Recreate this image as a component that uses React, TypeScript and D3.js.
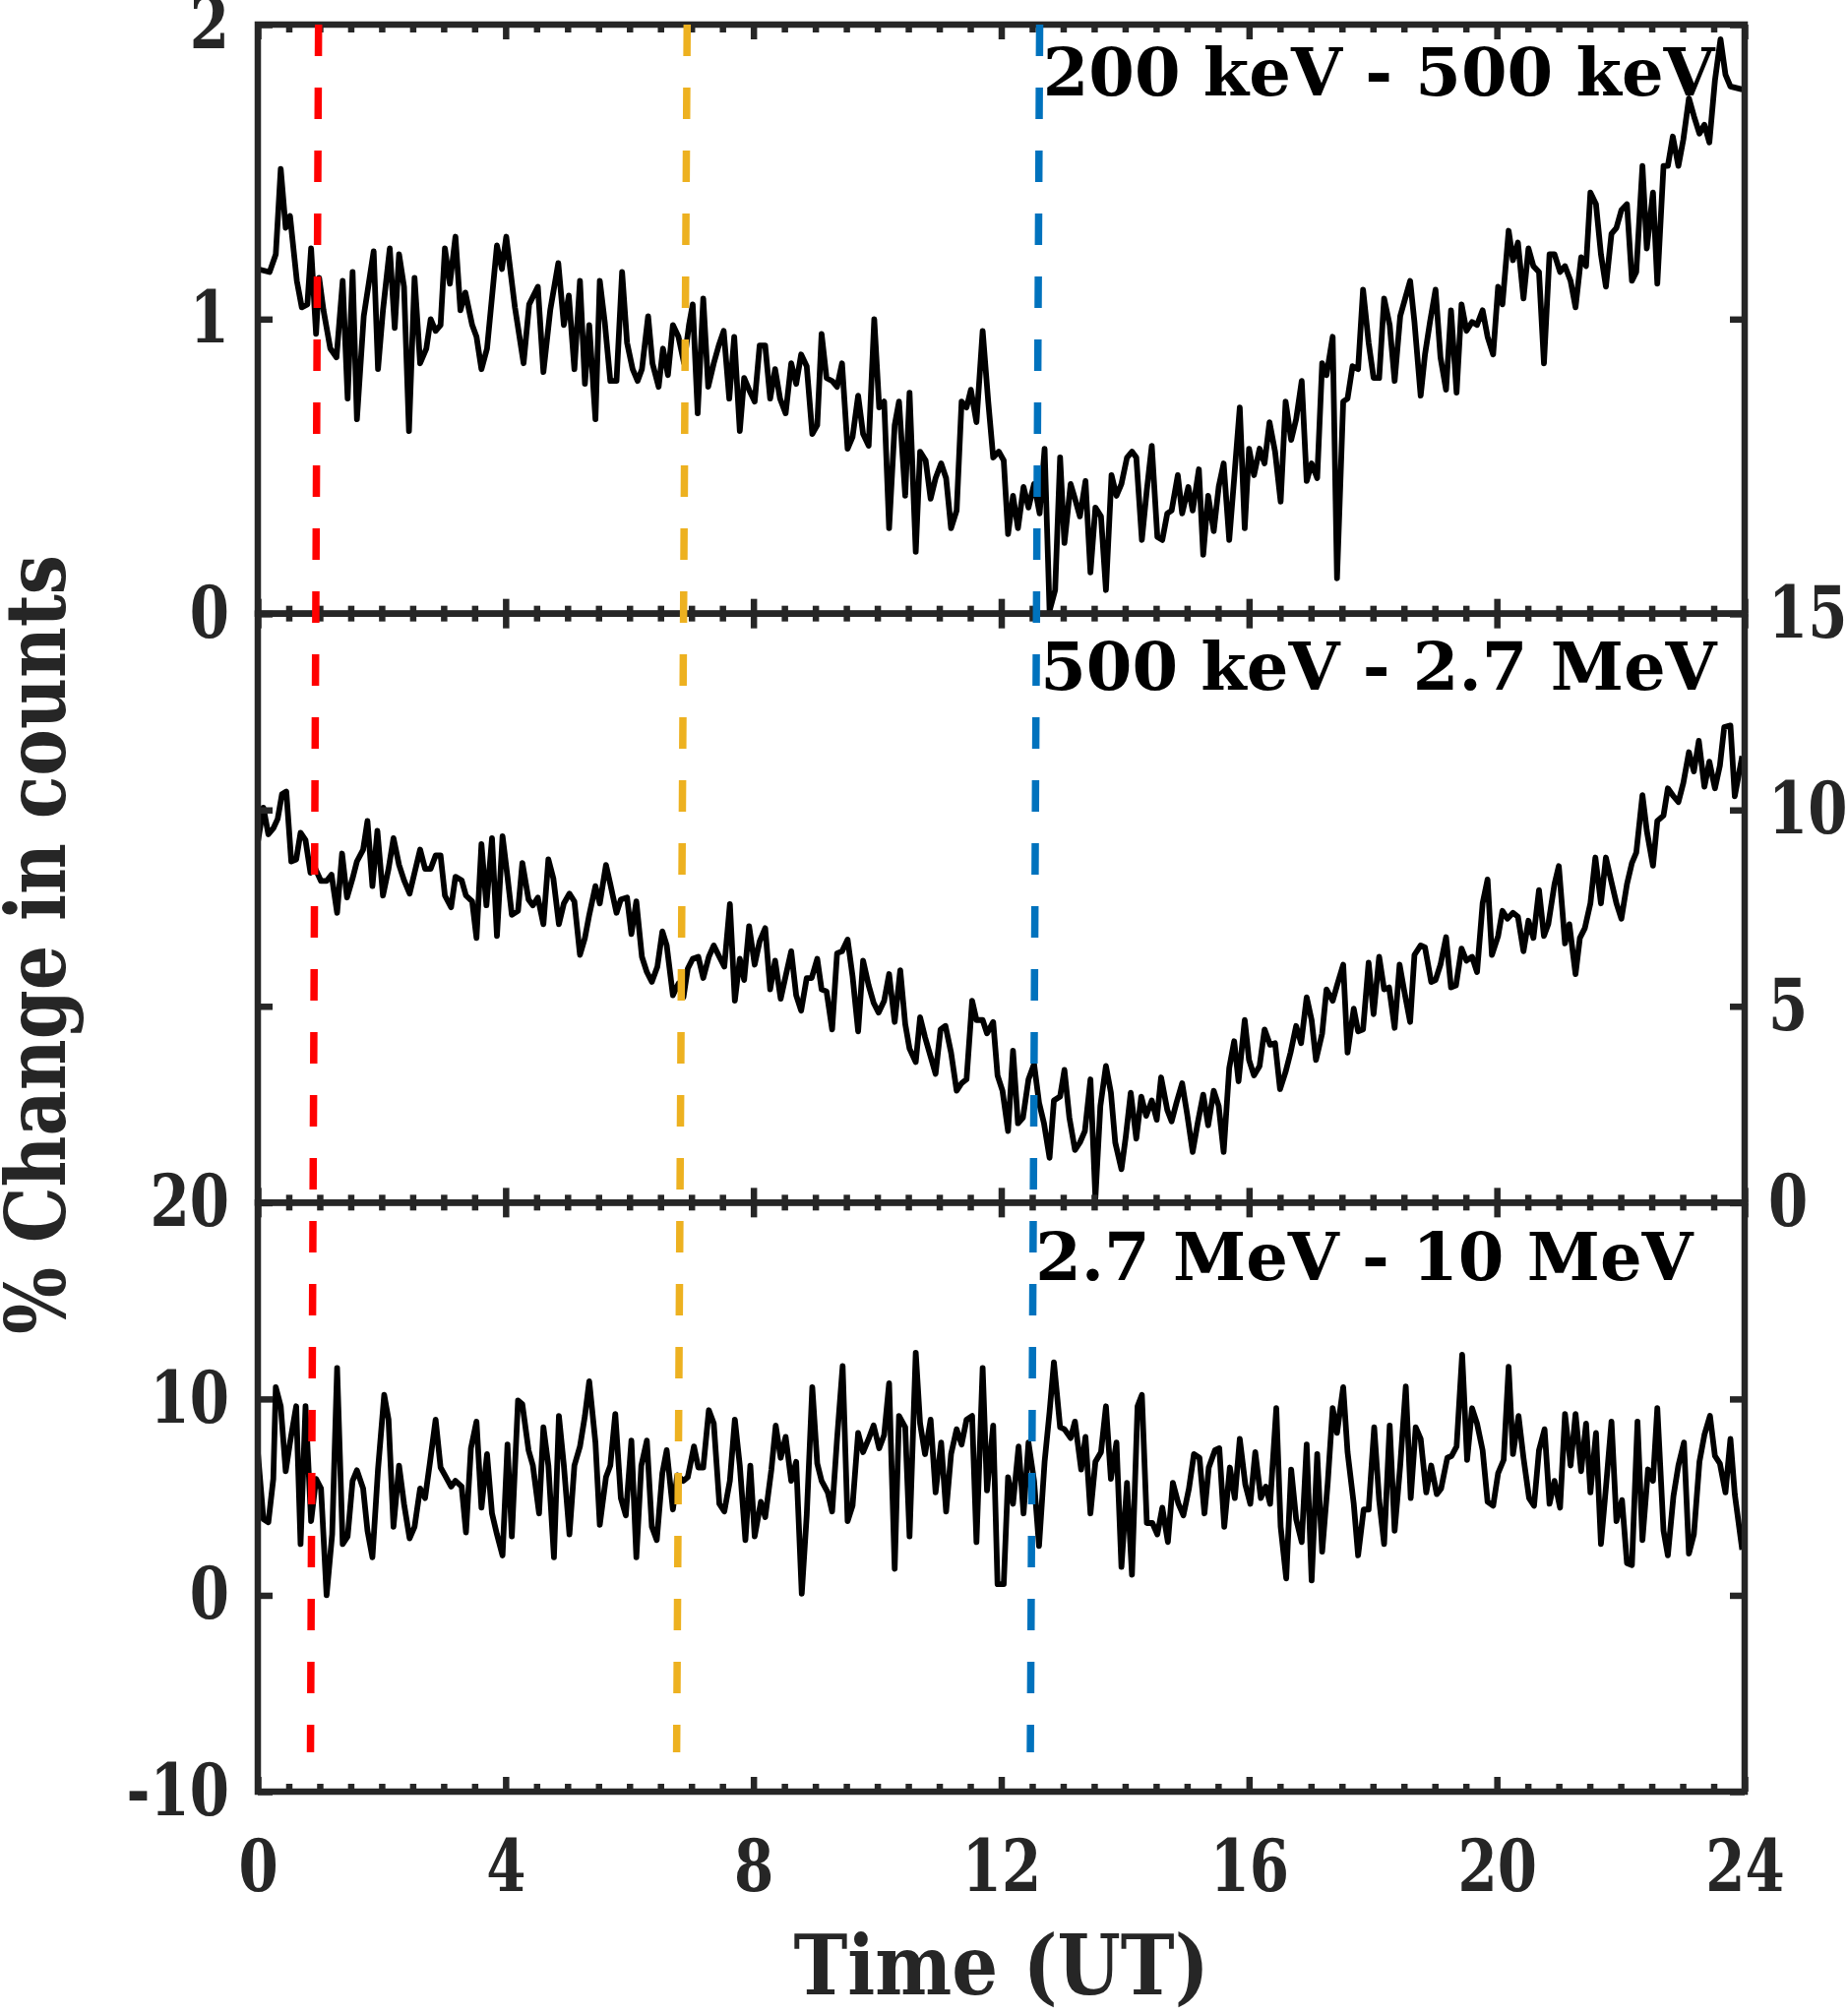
import React, { useEffect, useRef } from "react";
import * as d3 from "d3";

const WIDTH = 1878;
const HEIGHT = 2047;
const margin = { top: 25, right: 105, bottom: 226, left: 262 };

// 200 keV - 500 keV
const lowTimes = [0, 0.19, 0.29, 0.37, 0.45, 0.52, 0.63, 0.71, 0.80, 0.86, 0.94, 0.99, 1.06, 1.17, 1.27, 1.37, 1.45, 1.53, 1.60, 1.71, 1.87, 1.94, 2.02, 2.13, 2.21, 2.28, 2.36, 2.44, 2.53, 2.62, 2.72, 2.79, 2.87, 2.95, 3.02, 3.10, 3.19, 3.27, 3.35, 3.46, 3.53, 3.61, 3.70, 3.86, 3.94, 4.01, 4.15, 4.29, 4.38, 4.52, 4.61, 4.72, 4.85, 4.94, 5.02, 5.11, 5.20, 5.28, 5.35, 5.45, 5.52, 5.60, 5.69, 5.79, 5.88, 5.96, 6.05, 6.13, 6.20, 6.30, 6.37, 6.47, 6.54, 6.62, 6.70, 6.79, 6.88, 6.96, 7.02, 7.10, 7.19, 7.27, 7.36, 7.44, 7.52, 7.61, 7.69, 7.78, 7.85, 7.93, 8.02, 8.10, 8.19, 8.27, 8.35, 8.43, 8.52, 8.61, 8.69, 8.77, 8.86, 8.95, 9.03, 9.10, 9.18, 9.27, 9.35, 9.43, 9.52, 9.60, 9.69, 9.77, 9.86, 9.95, 10.03, 10.11, 10.19, 10.28, 10.35, 10.45, 10.52, 10.62, 10.69, 10.78, 10.86, 10.94, 11.03, 11.11, 11.19, 11.28, 11.36, 11.44, 11.51, 11.60, 11.70, 11.79, 11.87, 11.96, 12.04, 12.11, 12.19, 12.27, 12.36, 12.44, 12.53, 12.62, 12.70, 12.78, 12.87, 12.95, 13.02, 13.12, 13.19, 13.27, 13.36, 13.44, 13.52, 13.61, 13.69, 13.78, 13.86, 13.94, 14.03, 14.11, 14.18, 14.27, 14.35, 14.43, 14.52, 14.60, 14.68, 14.75, 14.85, 14.92, 15.02, 15.09, 15.19, 15.26, 15.34, 15.43, 15.51, 15.59, 15.68, 15.76, 15.85, 15.93, 16.00, 16.08, 16.17, 16.25, 16.33, 16.42, 16.51, 16.59, 16.68, 16.76, 16.85, 16.93, 17.01, 17.10, 17.18, 17.25, 17.35, 17.42, 17.52, 17.59, 17.67, 17.76, 17.84, 17.93, 18.01, 18.10, 18.18, 18.27, 18.35, 18.44, 18.52, 18.60, 18.67, 18.77, 18.84, 18.92, 19.01, 19.09, 19.18, 19.26, 19.35, 19.43, 19.51, 19.60, 19.68, 19.77, 19.85, 19.94, 20.02, 20.09, 20.19, 20.26, 20.34, 20.43, 20.51, 20.59, 20.68, 20.76, 20.85, 20.93, 21.02, 21.10, 21.19, 21.27, 21.36, 21.44, 21.51, 21.60, 21.68, 21.76, 21.85, 21.93, 22.01, 22.10, 22.18, 22.25, 22.35, 22.42, 22.52, 22.59, 22.69, 22.76, 22.84, 22.93, 23.01, 23.10, 23.18, 23.27, 23.35, 23.43, 23.52, 23.61, 23.69, 23.77, 23.96];
const lowValues = [1.17, 1.16, 1.22, 1.51, 1.31, 1.35, 1.13, 1.04, 1.05, 1.24, 0.95, 1.14, 1.03, 0.90, 0.87, 1.13, 0.73, 1.16, 0.66, 1.01, 1.23, 0.83, 1.03, 1.24, 0.97, 1.22, 1.11, 0.62, 1.14, 0.85, 0.90, 1.00, 0.96, 0.98, 1.24, 1.12, 1.28, 1.03, 1.09, 0.98, 0.94, 0.83, 0.90, 1.25, 1.17, 1.28, 1.04, 0.85, 1.05, 1.11, 0.82, 1.03, 1.19, 0.98, 1.08, 0.83, 1.13, 0.78, 0.98, 0.66, 1.13, 0.99, 0.79, 0.79, 1.16, 0.92, 0.83, 0.79, 0.83, 1.01, 0.85, 0.77, 0.90, 0.81, 0.98, 0.94, 0.85, 0.98, 1.05, 0.68, 1.07, 0.77, 0.85, 0.91, 0.96, 0.73, 0.94, 0.62, 0.80, 0.76, 0.72, 0.91, 0.91, 0.73, 0.83, 0.73, 0.68, 0.85, 0.78, 0.88, 0.84, 0.61, 0.64, 0.95, 0.80, 0.79, 0.77, 0.85, 0.56, 0.60, 0.74, 0.61, 0.57, 1.00, 0.70, 0.72, 0.29, 0.64, 0.72, 0.40, 0.75, 0.21, 0.55, 0.52, 0.39, 0.46, 0.51, 0.46, 0.29, 0.35, 0.72, 0.70, 0.76, 0.65, 0.96, 0.72, 0.53, 0.55, 0.52, 0.27, 0.40, 0.29, 0.43, 0.36, 0.44, 0.34, 0.56, 0.01, 0.08, 0.53, 0.24, 0.44, 0.39, 0.33, 0.45, 0.14, 0.36, 0.33, 0.08, 0.47, 0.40, 0.44, 0.53, 0.55, 0.53, 0.25, 0.42, 0.57, 0.26, 0.25, 0.34, 0.35, 0.47, 0.34, 0.43, 0.35, 0.49, 0.20, 0.40, 0.28, 0.43, 0.51, 0.25, 0.46, 0.70, 0.29, 0.56, 0.47, 0.56, 0.51, 0.65, 0.55, 0.38, 0.72, 0.59, 0.66, 0.79, 0.45, 0.51, 0.46, 0.85, 0.81, 0.94, 0.12, 0.72, 0.73, 0.84, 0.83, 1.10, 0.92, 0.80, 0.80, 1.07, 0.98, 0.79, 1.01, 1.07, 1.13, 0.99, 0.74, 0.88, 0.99, 1.10, 0.87, 0.76, 1.03, 0.75, 1.05, 0.96, 0.99, 0.98, 1.03, 0.94, 0.88, 1.11, 1.05, 1.30, 1.20, 1.26, 1.07, 1.24, 1.18, 1.16, 0.85, 1.22, 1.22, 1.16, 1.18, 1.13, 1.04, 1.21, 1.18, 1.43, 1.39, 1.22, 1.11, 1.29, 1.31, 1.37, 1.39, 1.13, 1.16, 1.52, 1.24, 1.43, 1.12, 1.52, 1.52, 1.62, 1.52, 1.61, 1.75, 1.69, 1.63, 1.66, 1.60, 1.81, 1.95, 1.83, 1.79, 1.78];

// 500 keV - 2.7 MeV
const midTimes = [0, 0.09, 0.17, 0.25, 0.32, 0.39, 0.46, 0.54, 0.62, 0.69, 0.77, 0.85, 0.93, 1.02, 1.11, 1.19, 1.28, 1.36, 1.44, 1.53, 1.60, 1.70, 1.77, 1.85, 1.93, 2.02, 2.11, 2.19, 2.28, 2.36, 2.45, 2.53, 2.62, 2.70, 2.79, 2.87, 2.95, 3.02, 3.12, 3.19, 3.29, 3.36, 3.46, 3.53, 3.61, 3.69, 3.78, 3.86, 3.95, 4.03, 4.10, 4.20, 4.27, 4.37, 4.44, 4.52, 4.61, 4.69, 4.77, 4.86, 4.94, 5.03, 5.11, 5.20, 5.28, 5.35, 5.45, 5.52, 5.62, 5.69, 5.79, 5.86, 5.96, 6.03, 6.11, 6.20, 6.28, 6.36, 6.45, 6.53, 6.60, 6.70, 6.79, 6.87, 6.94, 7.02, 7.11, 7.19, 7.28, 7.36, 7.45, 7.53, 7.62, 7.70, 7.78, 7.85, 7.93, 8.02, 8.10, 8.19, 8.27, 8.35, 8.44, 8.52, 8.61, 8.69, 8.77, 8.86, 8.94, 9.03, 9.10, 9.18, 9.27, 9.35, 9.43, 9.52, 9.60, 9.69, 9.77, 9.86, 9.94, 10.02, 10.11, 10.19, 10.28, 10.37, 10.45, 10.52, 10.62, 10.69, 10.77, 10.86, 10.94, 11.02, 11.10, 11.19, 11.28, 11.36, 11.44, 11.53, 11.60, 11.70, 11.77, 11.87, 11.94, 12.02, 12.11, 12.19, 12.27, 12.35, 12.44, 12.53, 12.61, 12.69, 12.78, 12.85, 12.95, 13.02, 13.10, 13.19, 13.27, 13.35, 13.44, 13.52, 13.60, 13.69, 13.77, 13.84, 13.94, 14.01, 14.09, 14.18, 14.26, 14.34, 14.43, 14.51, 14.58, 14.68, 14.75, 14.83, 14.92, 15.00, 15.09, 15.17, 15.26, 15.34, 15.43, 15.51, 15.59, 15.68, 15.76, 15.83, 15.93, 16.00, 16.08, 16.17, 16.25, 16.34, 16.42, 16.50, 16.59, 16.67, 16.76, 16.84, 16.93, 17.01, 17.08, 17.18, 17.25, 17.35, 17.42, 17.52, 17.59, 17.69, 17.76, 17.84, 17.93, 18.01, 18.10, 18.18, 18.26, 18.35, 18.43, 18.50, 18.60, 18.67, 18.77, 18.84, 18.94, 19.01, 19.09, 19.18, 19.26, 19.34, 19.43, 19.51, 19.60, 19.68, 19.77, 19.85, 19.92, 20.02, 20.09, 20.17, 20.26, 20.34, 20.43, 20.51, 20.59, 20.68, 20.76, 20.83, 20.93, 21.00, 21.10, 21.17, 21.27, 21.34, 21.42, 21.51, 21.59, 21.68, 21.76, 21.85, 21.93, 22.01, 22.10, 22.18, 22.25, 22.35, 22.42, 22.52, 22.59, 22.69, 22.76, 22.85, 22.93, 23.01, 23.10, 23.18, 23.26, 23.35, 23.43, 23.52, 23.60, 23.67, 23.77, 23.84, 23.96];
const midValues = [9.18, 10.06, 9.38, 9.53, 9.77, 10.40, 10.47, 8.69, 8.74, 9.42, 9.23, 8.40, 8.50, 8.19, 8.19, 8.35, 7.38, 8.89, 7.77, 8.26, 8.69, 8.99, 9.72, 8.06, 9.47, 7.82, 8.50, 9.28, 8.60, 8.21, 7.87, 8.40, 8.99, 8.50, 8.50, 8.84, 8.84, 7.82, 7.52, 8.30, 8.21, 7.82, 7.67, 6.74, 9.13, 7.57, 9.28, 6.79, 9.33, 8.30, 7.33, 7.43, 8.65, 7.72, 7.57, 7.77, 7.09, 8.74, 8.26, 7.09, 7.62, 7.87, 7.67, 6.31, 6.74, 7.33, 8.06, 7.62, 8.60, 8.11, 7.38, 7.72, 7.77, 6.84, 7.67, 6.26, 5.87, 5.62, 6.01, 6.91, 6.55, 5.28, 5.58, 5.23, 5.96, 6.21, 6.26, 5.72, 6.26, 6.55, 6.26, 6.01, 7.60, 5.14, 6.21, 5.67, 7.04, 6.06, 6.65, 6.99, 5.43, 6.16, 5.19, 5.77, 6.40, 5.28, 4.89, 5.72, 5.72, 6.21, 5.43, 5.38, 4.41, 6.35, 6.40, 6.70, 5.77, 4.36, 6.16, 5.53, 5.09, 4.84, 5.14, 5.82, 4.60, 5.92, 4.55, 3.92, 3.58, 4.72, 4.21, 3.72, 3.28, 4.41, 4.50, 3.82, 2.85, 3.04, 3.14, 5.14, 4.65, 4.65, 4.31, 4.60, 3.24, 2.85, 1.82, 3.87, 2.02, 2.16, 3.14, 3.53, 2.55, 2.02, 1.14, 2.60, 2.70, 3.38, 2.16, 1.34, 1.53, 1.82, 3.14, 0.12, 2.46, 3.48, 2.80, 1.53, 0.85, 1.68, 2.80, 1.63, 2.70, 2.21, 2.60, 2.11, 3.19, 2.36, 2.07, 2.55, 3.04, 2.26, 1.29, 2.02, 2.75, 1.97, 2.85, 2.46, 1.29, 3.43, 4.11, 3.09, 4.65, 3.63, 3.24, 3.48, 4.41, 4.02, 4.06, 2.89, 3.33, 3.82, 4.50, 4.06, 5.23, 4.65, 3.63, 4.31, 5.43, 5.14, 5.53, 6.06, 3.82, 4.94, 4.36, 4.41, 6.11, 4.80, 6.26, 5.43, 5.48, 4.45, 6.06, 5.43, 4.60, 6.31, 6.55, 6.50, 5.62, 5.67, 6.06, 6.76, 5.48, 5.53, 6.47, 6.16, 6.26, 5.87, 7.62, 8.23, 6.31, 6.79, 7.43, 7.23, 7.38, 7.28, 6.40, 7.18, 6.74, 7.96, 6.79, 7.09, 8.11, 8.57, 6.60, 7.09, 5.82, 6.74, 6.99, 7.62, 8.79, 7.62, 8.79, 8.16, 7.62, 7.23, 8.11, 8.65, 8.91, 10.38, 9.47, 8.58, 9.72, 9.86, 10.55, 10.35, 10.20, 10.69, 11.47, 10.98, 11.76, 10.59, 11.23, 10.55, 11.13, 12.11, 12.15, 10.35, 11.37];

// 2.7 MeV - 10 MeV
const highTimes = [0, 0.09, 0.17, 0.25, 0.29, 0.37, 0.45, 0.52, 0.62, 0.69, 0.77, 0.86, 0.94, 1.02, 1.11, 1.20, 1.28, 1.37, 1.45, 1.53, 1.60, 1.70, 1.77, 1.85, 1.94, 2.04, 2.11, 2.19, 2.28, 2.36, 2.45, 2.53, 2.62, 2.70, 2.78, 2.87, 2.95, 3.02, 3.12, 3.19, 3.29, 3.36, 3.44, 3.53, 3.61, 3.70, 3.78, 3.86, 3.95, 4.03, 4.10, 4.20, 4.27, 4.37, 4.44, 4.54, 4.61, 4.69, 4.78, 4.86, 4.94, 5.03, 5.11, 5.20, 5.28, 5.35, 5.45, 5.52, 5.62, 5.69, 5.77, 5.86, 5.94, 6.03, 6.11, 6.19, 6.28, 6.36, 6.44, 6.53, 6.60, 6.70, 6.77, 6.87, 6.94, 7.04, 7.11, 7.19, 7.28, 7.36, 7.45, 7.53, 7.62, 7.70, 7.78, 7.87, 7.95, 8.02, 8.12, 8.19, 8.29, 8.36, 8.44, 8.52, 8.61, 8.69, 8.78, 8.86, 8.95, 9.03, 9.10, 9.20, 9.27, 9.35, 9.44, 9.52, 9.60, 9.69, 9.77, 9.86, 9.94, 10.03, 10.11, 10.19, 10.28, 10.35, 10.45, 10.52, 10.62, 10.69, 10.77, 10.86, 10.94, 11.03, 11.11, 11.19, 11.28, 11.36, 11.44, 11.53, 11.60, 11.70, 11.77, 11.87, 11.94, 12.04, 12.11, 12.19, 12.28, 12.36, 12.44, 12.53, 12.61, 12.70, 12.78, 12.85, 12.95, 13.02, 13.12, 13.19, 13.29, 13.36, 13.44, 13.52, 13.61, 13.69, 13.77, 13.86, 13.94, 14.03, 14.11, 14.20, 14.27, 14.35, 14.44, 14.52, 14.60, 14.69, 14.77, 14.86, 14.94, 15.03, 15.11, 15.20, 15.28, 15.35, 15.45, 15.52, 15.60, 15.69, 15.77, 15.85, 15.94, 16.02, 16.10, 16.19, 16.27, 16.34, 16.44, 16.51, 16.60, 16.68, 16.76, 16.85, 16.93, 17.01, 17.10, 17.18, 17.27, 17.35, 17.42, 17.52, 17.59, 17.69, 17.76, 17.85, 17.93, 18.02, 18.10, 18.18, 18.27, 18.35, 18.44, 18.53, 18.61, 18.69, 18.77, 18.86, 18.94, 19.03, 19.10, 19.20, 19.27, 19.35, 19.44, 19.52, 19.60, 19.68, 19.77, 19.85, 19.94, 20.02, 20.11, 20.19, 20.26, 20.35, 20.43, 20.52, 20.60, 20.68, 20.77, 20.85, 20.93, 21.02, 21.10, 21.19, 21.27, 21.36, 21.44, 21.51, 21.60, 21.68, 21.77, 21.85, 21.93, 22.02, 22.10, 22.18, 22.27, 22.35, 22.44, 22.52, 22.59, 22.69, 22.76, 22.85, 22.93, 23.02, 23.10, 23.18, 23.27, 23.35, 23.44, 23.52, 23.60, 23.69, 23.77, 23.84, 23.96];
const highValues = [7.29, 3.88, 3.72, 5.93, 10.60, 9.63, 6.32, 7.78, 9.63, 2.61, 9.63, 3.78, 5.93, 5.44, 0.00, 3.10, 11.58, 2.61, 3.00, 5.83, 6.37, 5.44, 3.29, 1.93, 6.41, 10.21, 8.95, 3.49, 6.61, 4.66, 2.90, 3.49, 5.44, 4.95, 6.80, 8.95, 6.51, 6.12, 5.54, 5.83, 5.54, 3.20, 7.49, 8.85, 4.46, 7.19, 4.17, 3.10, 2.03, 7.68, 3.00, 9.92, 9.73, 7.39, 6.61, 4.17, 8.56, 6.61, 1.93, 9.14, 6.61, 3.10, 6.61, 7.58, 9.14, 10.90, 7.78, 3.59, 6.02, 6.61, 9.24, 4.95, 4.07, 7.88, 1.93, 6.61, 7.88, 3.49, 2.81, 6.22, 7.39, 4.37, 6.12, 5.83, 6.02, 7.58, 6.51, 6.51, 9.43, 8.75, 4.66, 4.27, 5.83, 8.95, 6.61, 2.81, 6.61, 3.00, 4.76, 3.98, 6.41, 8.65, 7.00, 8.07, 5.83, 6.80, 0.08, 4.07, 10.60, 6.71, 5.83, 5.24, 4.27, 7.97, 11.68, 3.78, 4.56, 8.27, 7.29, 7.97, 8.65, 7.49, 8.17, 10.80, 1.35, 9.14, 8.56, 3.00, 12.36, 8.75, 7.19, 8.95, 5.24, 7.78, 4.27, 7.19, 8.46, 7.68, 8.95, 9.14, 2.71, 11.58, 5.34, 8.65, 0.57, 0.57, 6.02, 4.66, 7.58, 4.17, 7.78, 5.83, 2.51, 6.80, 9.34, 11.87, 8.56, 8.46, 8.01, 8.85, 6.41, 8.07, 4.17, 6.80, 7.29, 9.63, 5.93, 7.78, 1.44, 5.73, 1.05, 9.63, 10.21, 3.68, 3.68, 3.10, 4.46, 2.71, 5.73, 4.66, 4.07, 5.44, 7.19, 7.00, 4.17, 6.51, 7.39, 7.49, 3.49, 6.51, 4.95, 7.97, 5.63, 4.66, 7.29, 4.95, 5.54, 4.66, 9.53, 3.49, 0.86, 6.41, 3.88, 2.71, 7.68, 0.76, 7.19, 2.22, 5.73, 9.53, 8.27, 10.60, 7.29, 4.66, 2.03, 4.37, 4.37, 8.56, 4.85, 2.61, 8.65, 3.29, 6.61, 10.64, 4.95, 8.56, 7.97, 5.24, 6.61, 5.15, 5.44, 7.00, 7.10, 7.58, 12.26, 6.90, 9.53, 8.75, 7.39, 4.76, 4.56, 6.22, 6.90, 11.64, 7.19, 9.14, 7.00, 4.95, 4.56, 7.39, 8.46, 4.66, 5.83, 4.46, 9.24, 6.61, 9.24, 6.32, 8.75, 5.24, 8.27, 2.61, 5.83, 8.85, 3.78, 4.85, 1.64, 1.54, 8.85, 2.81, 6.41, 5.83, 9.53, 3.29, 2.03, 5.05, 6.61, 7.78, 2.12, 3.10, 6.80, 8.17, 9.14, 7.10, 6.71, 5.24, 7.97, 5.15, 2.32];

const panelLabels = ["200 keV - 500 keV", "500 keV - 2.7 MeV", "2.7 MeV - 10 MeV"];
const panelDomains: [number, number][] = [[0, 2], [0, 15], [-10, 20]];
const panelTicks = [[0, 1, 2], [0, 5, 10, 15], [-10, 0, 10, 20]];
const labelSide = ["left", "right", "left"];
// where each panel label sits (hours, value)
const labelPos: [number, number][] = [[12.67, 1.76], [12.63, 13.07], [12.55, 16.05]];

const xTicks = [0, 4, 8, 12, 16, 20, 24];

// event markers (dashed), slightly slanted from top to bottom
const eventTop = [0.98, 6.93, 12.62];
const eventBottom = [0.85, 6.76, 12.47];
const eventEnd = -8;
const eventColors = ["#FF0000", "#EDB120", "#0072BD"];

const AXIS = "#262626";
const SERIF = "'DejaVu Serif', serif";
const CONDENSED = "'DejaVu Serif Condensed', 'DejaVu Serif', serif";
const SQUEEZE = 0.88; // tick labels are a touch narrower than the condensed cut

export default function App() {
  const ref = useRef<SVGSVGElement>(null);

  useEffect(() => {
    document.body.style.margin = "0";
    const svg = d3.select(ref.current!);
    svg.selectAll("*").remove();

    const panelH = (HEIGHT - margin.top - margin.bottom) / 3;
    const x = d3.scaleLinear().domain([0, 24]).range([margin.left, WIDTH - margin.right]);
    const minorTicks = d3.range(0, 24.001, 0.5).filter((t) => t % 4 !== 0);

    const series = [
      { times: lowTimes, values: lowValues },
      { times: midTimes, values: midValues },
      { times: highTimes, values: highValues },
    ];

    const yScales = series.map((_, i) => {
      const top = margin.top + i * panelH;
      return d3.scaleLinear().domain(panelDomains[i]).range([top + panelH, top]);
    });

    const styleAxis = (g: d3.Selection<SVGGElement, unknown, null, undefined>) => {
      g.select(".domain").remove();
      g.attr("color", AXIS)
        .attr("font-family", CONDENSED)
        .attr("font-size", 73)
        .attr("font-weight", "bold");
      g.selectAll(".tick line").attr("stroke-width", 6.5);
      g.selectAll<SVGTextElement, unknown>(".tick text").each(function () {
        const t = d3.select(this);
        const x0 = Number(t.attr("x") ?? 0);
        t.attr("x", x0 / SQUEEZE).attr("transform", `scale(${SQUEEZE},1)`);
      });
    };

    series.forEach((s, i) => {
      const y = yScales[i];
      const top = margin.top + i * panelH;
      const bottom = top + panelH;
      const g = svg.append("g");

      // data line
      const pts = d3.zip(s.times, s.values) as [number, number][];
      g.append("path")
        .datum(pts)
        .attr("fill", "none")
        .attr("stroke", "#000")
        .attr("stroke-width", 5.8)
        .attr("stroke-linejoin", "round")
        .attr(
          "d",
          d3
            .line<[number, number]>()
            .x((d) => x(d[0]))
            .y((d) => y(d[1]))
        );

      // x ticks top / bottom
      const bottomAxis = g
        .append("g")
        .attr("transform", `translate(0,${bottom})`)
        .call(
          d3
            .axisBottom(x)
            .tickValues(xTicks)
            .tickSizeInner(-15)
            .tickSizeOuter(0)
            .tickPadding(49)
            .tickFormat((d) => (i === 2 ? String(d) : ""))
        );
      styleAxis(bottomAxis);
      const bottomMinor = g
        .append("g")
        .attr("transform", `translate(0,${bottom})`)
        .call(d3.axisBottom(x).tickValues(minorTicks).tickSizeInner(-8).tickSizeOuter(0).tickFormat(() => ""));
      styleAxis(bottomMinor);

      const topAxis = g
        .append("g")
        .attr("transform", `translate(0,${top})`)
        .call(d3.axisTop(x).tickValues(xTicks).tickSizeInner(-15).tickSizeOuter(0).tickFormat(() => ""));
      styleAxis(topAxis);
      const topMinor = g
        .append("g")
        .attr("transform", `translate(0,${top})`)
        .call(d3.axisTop(x).tickValues(minorTicks).tickSizeInner(-8).tickSizeOuter(0).tickFormat(() => ""));
      styleAxis(topMinor);

      // y ticks both sides, labels on one side
      const leftAxis = g
        .append("g")
        .attr("transform", `translate(${margin.left},0)`)
        .call(
          d3
            .axisLeft(y)
            .tickValues(panelTicks[i])
            .tickSizeInner(-15)
            .tickSizeOuter(0)
            .tickPadding(29)
            .tickFormat((d) => (labelSide[i] === "left" ? String(d) : ""))
        );
      styleAxis(leftAxis);
      const rightAxis = g
        .append("g")
        .attr("transform", `translate(${WIDTH - margin.right},0)`)
        .call(
          d3
            .axisRight(y)
            .tickValues(panelTicks[i])
            .tickSizeInner(-15)
            .tickSizeOuter(0)
            .tickPadding(24)
            .tickFormat((d) => (labelSide[i] === "right" ? String(d) : ""))
        );
      styleAxis(rightAxis);

      // frame
      g.append("rect")
        .attr("x", margin.left)
        .attr("y", top)
        .attr("width", WIDTH - margin.left - margin.right)
        .attr("height", panelH)
        .attr("fill", "none")
        .attr("stroke", AXIS)
        .attr("stroke-width", 6.5);

      // energy band label
      g.append("text")
        .attr("x", x(labelPos[i][0]))
        .attr("y", y(labelPos[i][1]))
        .attr("font-family", SERIF)
        .attr("font-weight", "bold")
        .attr("font-size", 67)
        .attr("fill", "#000")
        .text(panelLabels[i]);
    });

    // dashed event lines across all panels
    eventTop.forEach((t, k) => {
      svg
        .append("line")
        .attr("x1", x(t))
        .attr("y1", yScales[0](panelDomains[0][1]))
        .attr("x2", x(eventBottom[k]))
        .attr("y2", yScales[2](eventEnd))
        .attr("stroke", eventColors[k])
        .attr("stroke-width", 7.5)
        .attr("stroke-dasharray", "32 32");
    });

    // axis titles
    const cx = (margin.left + WIDTH - margin.right) / 2;
    svg
      .append("text")
      .attr("transform", `translate(${cx},2027) scale(0.975,1)`)
      .attr("text-anchor", "middle")
      .attr("font-family", CONDENSED)
      .attr("font-weight", "bold")
      .attr("font-size", 84)
      .attr("fill", AXIS)
      .text("Time (UT)");

    svg
      .append("text")
      .attr("transform", "translate(66,960) rotate(-90) scale(0.945,1)")
      .attr("text-anchor", "middle")
      .attr("font-family", CONDENSED)
      .attr("font-weight", "bold")
      .attr("font-size", 84)
      .attr("fill", AXIS)
      .text("% Change in counts");
  }, []);

  return (
    <svg
      ref={ref}
      width={WIDTH}
      height={HEIGHT}
      style={{ position: "absolute", left: 0, top: 0, background: "#fff", display: "block" }}
    />
  );
}
